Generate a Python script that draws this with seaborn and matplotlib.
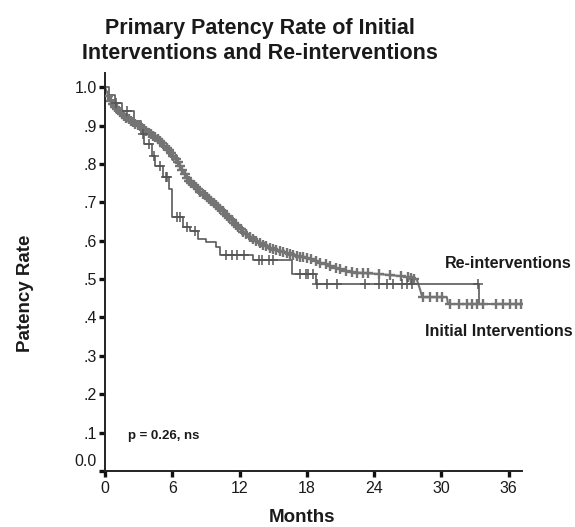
import matplotlib
matplotlib.use('Agg')
import matplotlib.pyplot as plt
import seaborn as sns
import numpy as np
import pandas as pd
from matplotlib.transforms import ScaledTranslation

# Initial interventions (large group, smooth KM curve)
init_months = [0, 0.53, 1.69, 3.2, 4.71, 5.6, 6.49, 7.38, 8.53, 10.04, 11.2, 12.36,
               13.6, 15.0, 16.53, 18.31, 20.1, 21.9, 24.5, 26.3, 27.8, 28.1, 28.3,
               30.5, 30.6, 37.2]
init_surv = [1.0, 0.961, 0.924, 0.896, 0.865, 0.839, 0.805, 0.76, 0.727, 0.69, 0.656, 0.622,
             0.596, 0.578, 0.565, 0.552, 0.534, 0.518, 0.513, 0.508, 0.5, 0.474, 0.453,
             0.453, 0.435, 0.435]
init_censored = [0.3, 0.5, 0.7, 0.9, 1.1, 1.3, 1.5, 1.7, 1.9, 2.1, 2.3, 2.5, 2.7, 2.9, 3.1,
                 3.3, 3.5, 3.7, 3.9, 4.1, 4.3, 4.5, 4.7, 4.9, 5.1, 5.3, 5.5, 5.7, 5.9, 6.1,
                 6.3, 6.5, 6.7, 6.9, 7.1, 7.3, 7.5, 7.7, 7.9, 8.1, 8.3, 8.5, 8.7, 8.9, 9.1,
                 9.3, 9.5, 9.7, 9.9, 10.1, 10.3, 10.5, 10.7, 10.9, 11.1, 11.3, 11.5, 11.7,
                 11.9, 12.1, 12.3, 12.6, 12.9, 13.2, 13.5, 13.8, 14.1, 14.4, 14.7, 15.0,
                 15.3, 15.6, 15.9, 16.2, 16.5, 16.8, 17.1, 17.4, 17.7, 18.0, 18.4, 18.8,
                 19.2, 19.7, 20.1, 20.6, 21.0, 21.5, 22.0, 22.5, 23.0, 23.5, 24.4, 25.4,
                 26.4, 27.0, 27.3, 27.6, 28.4, 29.0, 29.6, 30.1, 30.8, 31.6, 32.3, 32.7,
                 33.2, 33.7, 34.9, 35.5, 36.1, 36.7, 37.1]

# Re-interventions (smaller group, step curve)
re_months = [0, 0.4, 0.9, 1.5, 2.6, 3.2, 3.5, 4.2, 4.5, 5.2, 5.7, 6.0, 7.0, 7.6, 8.3,
             9.0, 9.9, 10.3, 13.2, 16.7, 18.8, 33.4]
re_surv = [1.0, 0.98, 0.96, 0.9375, 0.911, 0.878, 0.852, 0.82, 0.794, 0.765, 0.735, 0.661,
           0.635, 0.625, 0.604, 0.596, 0.583, 0.5625, 0.549, 0.513, 0.487, 0.435]
re_censored = [1.0, 2.0, 3.4, 3.9, 4.4, 4.9, 5.4, 5.5, 6.4, 6.7, 7.3, 8.0, 10.8, 11.3, 11.8,
               12.4, 13.7, 14.0, 14.6, 15.0, 17.4, 17.9, 18.1, 18.6, 18.9, 19.8, 20.7, 23.2,
               24.4, 25.2, 25.7, 26.5, 26.9, 27.4, 33.3]

x_ticks = [0, 6, 12, 18, 24, 30, 36]
y_ticks = [0.0, 0.1, 0.2, 0.3, 0.4, 0.5, 0.6, 0.7, 0.8, 0.9, 1.0]
y_tick_labels = ['0.0', '.1', '.2', '.3', '.4', '.5', '.6', '.7', '.8', '.9', '1.0']

sns.set_style('white')
plt.rcParams['font.family'] = ['Liberation Sans', 'DejaVu Sans']

fig = plt.figure(figsize=(5.75, 5.27), dpi=100)
ax = fig.add_axes([0.1826, 0.1063, 0.7252, 0.7552])

init_df = pd.DataFrame({'month': init_months, 'surv': init_surv})
re_df = pd.DataFrame({'month': re_months, 'surv': re_surv})

sns.lineplot(data=init_df, x='month', y='surv', ax=ax, color='#747474', lw=1.5,
             sort=False, estimator=None)
sns.lineplot(data=re_df, x='month', y='surv', ax=ax, color='#5a5a5a', lw=1.2,
             drawstyle='steps-post', sort=False, estimator=None)

# censor marks placed on their curves
init_c = np.array(init_censored)
init_c_y = np.interp(init_c, init_months, init_surv)
re_c = np.array(re_censored)
idx = np.searchsorted(re_months, re_c, side='right') - 1
re_c_y = np.array(re_surv)[idx]

sns.scatterplot(x=init_c, y=init_c_y, ax=ax, marker='+', s=55, color='#747474',
                linewidth=1.7, zorder=3)
sns.scatterplot(x=re_c, y=re_c_y, ax=ax, marker='+', s=45, color='#555555',
                linewidth=1.1, zorder=4)

ax.set_xlim(0, 37.2)
ax.set_ylim(0, 1.037)
ax.set_xticks(x_ticks)
ax.set_xticklabels([str(t) for t in x_ticks])
ax.set_yticks(y_ticks)
ax.set_yticklabels(y_tick_labels)
ax.tick_params(axis='both', bottom=True, left=True, length=4, width=2.4, color='#111111',
               labelsize=11.5, labelcolor='#1a1a1a', pad=2, direction='out')
ax.tick_params(axis='x', pad=3)
for side in ['top', 'right']:
    ax.spines[side].set_visible(False)
for side in ['left', 'bottom']:
    ax.spines[side].set_color('#222222')
    ax.spines[side].set_linewidth(1.4)
ax.set_xlabel('')
ax.set_ylabel('')

# the 0.0 label sits a little above the axis in the original
lab0 = ax.get_yticklabels()[0]
lab0.set_transform(lab0.get_transform() + ScaledTranslation(0, 8 / 72, fig.dpi_scale_trans))

fig.text(0.452, 0.965, 'Primary Patency Rate of Initial\nInterventions and Re-interventions',
         ha='center', va='top', fontsize=15.5, fontweight='bold', color='#1a1a1a',
         linespacing=1.2)
fig.text(0.525, 1 - 517 / 527, 'Months', ha='center', va='center', fontsize=13.5,
         fontweight='bold', color='#1a1a1a')
fig.text(25 / 575, 1 - 293 / 527, 'Patency Rate', ha='center', va='center', rotation=90,
         fontsize=13.5, fontweight='bold', color='#1a1a1a')
fig.text(128 / 575, 1 - 436 / 527, 'p = 0.26, ns', ha='left', va='center', fontsize=9.5,
         fontweight='bold', color='#1a1a1a')
fig.text(572 / 575, 1 - 263 / 527, 'Re-interventions', ha='right', va='center',
         fontsize=11.5, fontweight='bold', color='#1a1a1a')
fig.text(573 / 575, 1 - 331 / 527, 'Initial Interventions', ha='right', va='center',
         fontsize=11.5, fontweight='bold', color='#1a1a1a')

plt.savefig('out.png', dpi=100)
plt.close()
